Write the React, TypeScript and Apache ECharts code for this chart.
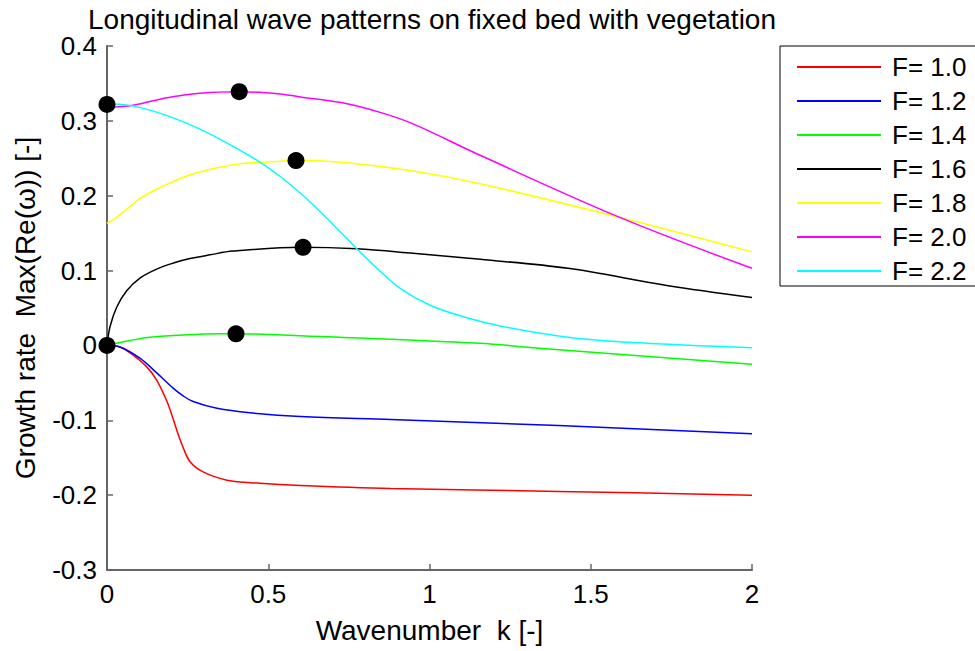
import React, { useEffect, useRef } from "react";
import * as echarts from "echarts";

const FONT = "'Liberation Sans', Arial, Helvetica, sans-serif";

const seriesNames = ["F= 1.0", "F= 1.2", "F= 1.4", "F= 1.6", "F= 1.8", "F= 2.0", "F= 2.2"];
const seriesColors = ["#ff0000", "#0000ff", "#00ff00", "#000000", "#ffff00", "#ff00ff", "#00ffff"];

const f10: number[][] = [
  [0, 0], [0.04, -0.002], [0.081, -0.013], [0.124, -0.029], [0.155, -0.047], [0.186, -0.075],
  [0.205, -0.098], [0.22, -0.118], [0.233, -0.133], [0.257, -0.155], [0.298, -0.169], [0.372, -0.18],
  [0.474, -0.184], [0.6, -0.187], [0.88, -0.191], [1.4, -0.195], [2, -0.2],
];
const f12: number[][] = [
  [0, 0], [0.04, -0.002], [0.102, -0.017], [0.155, -0.037], [0.205, -0.057], [0.235, -0.067],
  [0.267, -0.075], [0.341, -0.084], [0.443, -0.09], [0.6, -0.095], [0.88, -0.099], [1.4, -0.107],
  [2, -0.118],
];
const f14: number[][] = [
  [0, 0], [0.04, 0.004], [0.133, 0.011], [0.237, 0.014], [0.35, 0.0155], [0.45, 0.0152],
  [0.6, 0.013], [1.157, 0.003], [1.32, -0.003], [2, -0.025],
];
const f16: number[][] = [
  [0, 0], [0.0093, 0.025], [0.03, 0.051], [0.061, 0.073], [0.102, 0.09], [0.154, 0.102],
  [0.206, 0.11], [0.257, 0.116], [0.319, 0.121], [0.391, 0.126], [0.6, 0.131], [0.775, 0.129],
  [0.949, 0.123], [1.157, 0.115], [1.43, 0.103], [1.736, 0.08], [2, 0.064],
];
const f18: number[][] = [
  [0, 0.163], [0.03, 0.171], [0.061, 0.182], [0.102, 0.196], [0.154, 0.209], [0.206, 0.219],
  [0.257, 0.228], [0.309, 0.234], [0.35, 0.238], [0.42, 0.243], [0.496, 0.245], [0.6, 0.247],
  [0.744, 0.244], [0.949, 0.233], [1.157, 0.216], [1.59, 0.171], [2, 0.125],
];
const f20: number[][] = [
  [0, 0.318], [0.081, 0.321], [0.186, 0.331], [0.288, 0.337], [0.41, 0.339], [0.536, 0.336],
  [0.6, 0.332], [0.744, 0.323], [0.85, 0.311], [0.949, 0.296], [1.157, 0.254], [1.59, 0.171],
  [2, 0.103],
];
const f22: number[][] = [
  [0, 0.323], [0.081, 0.32], [0.186, 0.307], [0.288, 0.289], [0.391, 0.266], [0.474, 0.245],
  [0.536, 0.226], [0.598, 0.204], [0.639, 0.188], [0.7, 0.162], [0.775, 0.129], [0.847, 0.099],
  [0.91, 0.076], [1.0, 0.054], [1.1, 0.039], [1.22, 0.026], [1.43, 0.011], [1.63, 0.004],
  [2, -0.003],
];
const seriesData = [f10, f12, f14, f16, f18, f20, f22];

const maxPoints: number[][] = [
  [0, 0], [0, 0.322], [0.41, 0.339], [0.586, 0.247], [0.608, 0.131], [0.4, 0.0155],
];

const titleText = "Longitudinal wave patterns on fixed bed with vegetation";
const xName = "Wavenumber  k [-]";
const yName = "Growth rate  Max(Re(\u03c9)) [-]";

export default function App() {
  const ref = useRef<HTMLDivElement>(null);
  useEffect(() => {
    if (!ref.current) return;
    const chart = echarts.init(ref.current, undefined, { renderer: "svg" });
    const axisCommon = {
      axisLine: { onZero: false, lineStyle: { color: "#666666", width: 2 } },
      axisTick: { inside: true, length: 6, lineStyle: { color: "#666666", width: 1.5 } },
      splitLine: { show: false },
      nameTextStyle: { color: "#000", fontSize: 28, fontFamily: FONT },
    };
    chart.setOption({
      animation: false,
      backgroundColor: "#ffffff",
      graphic: [
        {
          type: "text",
          x: 432,
          y: 19,
          style: {
            text: titleText,
            fontSize: 28,
            fontFamily: FONT,
            fill: "#000",
            textAlign: "center",
            textVerticalAlign: "middle",
          },
        },
      ],
      grid: { left: 107, right: 223, top: 46, bottom: 81 },
      legend: {
        data: seriesNames,
        orient: "vertical",
        left: 780,
        top: 46,
        padding: [8, 14, 2, 17],
        itemWidth: 84,
        itemHeight: 2,
        itemGap: 8,
        icon: "rect",
        borderColor: "#000",
        borderWidth: 1,
        backgroundColor: "#fff",
        textStyle: { fontSize: 26, fontFamily: FONT, color: "#000", padding: [0, 0, 0, 6] },
      },
      xAxis: {
        type: "value",
        min: 0,
        max: 2,
        interval: 0.5,
        name: xName,
        nameLocation: "middle",
        nameGap: 46,
        ...axisCommon,
        axisLabel: {
          margin: 11,
          color: "#000",
          fontSize: 26,
          fontFamily: FONT,
          formatter: (v: number) => String(+v.toFixed(1)),
        },
      },
      yAxis: {
        type: "value",
        min: -0.3,
        max: 0.4,
        interval: 0.1,
        name: yName,
        nameLocation: "middle",
        nameGap: 68,
        ...axisCommon,
        axisLabel: {
          margin: 10,
          color: "#000",
          fontSize: 26,
          fontFamily: FONT,
          formatter: (v: number) => String(+v.toFixed(1)),
        },
      },
      series: [
        ...seriesNames.map((name, i) => ({
          name,
          type: "line",
          data: seriesData[i],
          smooth: 0.35,
          showSymbol: false,
          symbol: "none",
          color: seriesColors[i],
          lineStyle: { color: seriesColors[i], width: 1.5 },
          z: 2,
        })),
        {
          name: "max",
          type: "scatter",
          data: maxPoints,
          symbolSize: 17,
          itemStyle: { color: "#000", opacity: 1 },
          z: 5,
        },
      ],
    });
    return () => chart.dispose();
  }, []);
  return (
    <div
      ref={ref}
      style={{ position: "fixed", left: 0, top: 0, width: 975, height: 651, background: "#fff" }}
    />
  );
}
